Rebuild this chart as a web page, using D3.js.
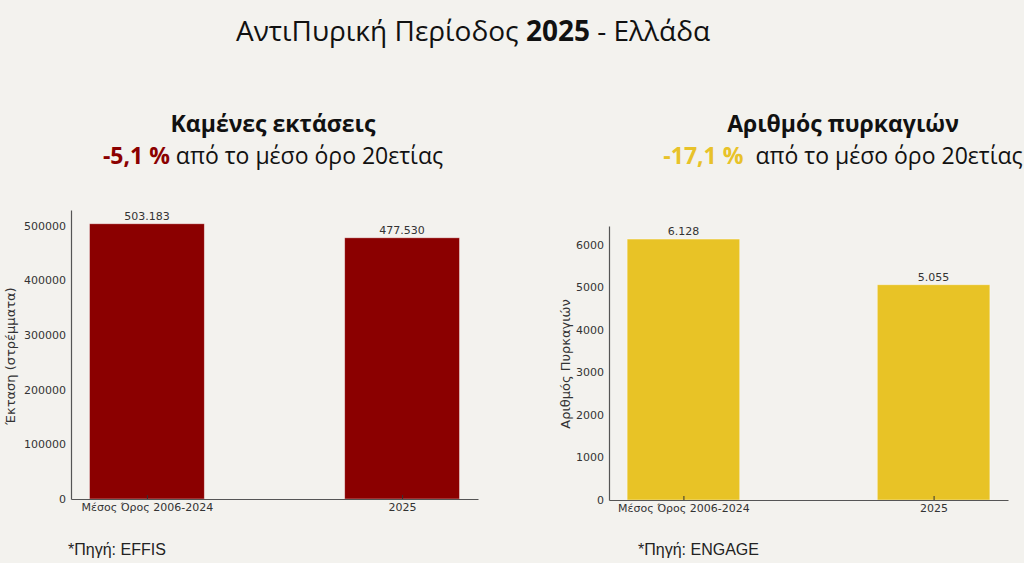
<!DOCTYPE html>
<html lang="el">
<head>
<meta charset="UTF-8">
<script src="https://cdn.jsdelivr.net/npm/d3@7"></script>
<title>Αντιπυρική περίοδος 2025</title>
<style>
    body { margin: 0; background: #f3f2ee; }
    svg { display: block; }
    .tick text { font-family: "DejaVu Sans", sans-serif; fill: #333; }
    .domain { stroke: #555; stroke-width: 1.2px; }
</style>
</head>
<body>
<script>
    // ---------- data ----------
    const categories = ["Μέσος Όρος 2006-2024", "2025"];
    const areaValues = [503183, 477530];
    const areaLabels = ["503.183", "477.530"];
    const fireValues = [6128, 5055];
    const fireLabels = ["6.128", "5.055"];
    const areaTicks = [0, 100000, 200000, 300000, 400000, 500000];
    const fireTicks = [0, 1000, 2000, 3000, 4000, 5000, 6000];

    const W = 1024, H = 563;
    const svg = d3.select("body").append("svg")
        .attr("width", W).attr("height", H);

    // ---------- titles ----------
    const title = svg.append("text")
        .attr("x", 473).attr("y", 41)
        .attr("text-anchor", "middle")
        .style("font-family", "'Open Sans', sans-serif")
        .style("font-size", "28px")
        .style("fill", "#111");
    title.append("tspan").text("ΑντιΠυρική Περίοδος ");
    title.append("tspan").style("font-weight", "bold").text("2025");
    title.append("tspan").text(" - Ελλάδα");

    function subtitle(cx, name, pct, color) {
        svg.append("text")
            .attr("x", cx).attr("y", 132)
            .attr("text-anchor", "middle")
            .style("font-family", "'Open Sans', sans-serif")
            .style("font-weight", "bold")
            .style("font-size", "23px")
            .style("fill", "#111")
            .text(name);
        const t = svg.append("text")
            .attr("x", cx).attr("y", 164)
            .attr("text-anchor", "middle")
            .style("font-family", "'Open Sans', sans-serif")
            .style("font-size", "23px")
            .style("fill", "#111");
        t.append("tspan").style("font-weight", "bold").style("fill", color).text(pct);
        t.append("tspan").attr("xml:space", "preserve").text(" από το μέσο όρο 20ετίας");
    }
    subtitle(273, "Καμένες εκτάσεις", "-5,1 %", "#8b0000");
    subtitle(843, "Αριθμός πυρκαγιών", "-17,1 %\u00a0", "#e8c229");

    // ---------- bar chart ----------
    function barChart(opt) {
        const g = svg.append("g");
        // matplotlib style: bar width 0.45, 5% margins
        const x = d3.scaleLinear()
            .domain([-0.2975, 1.2975])
            .range([opt.left, opt.right]);
        const ymax = d3.max(opt.values) * 1.05;
        const y = d3.scaleLinear()
            .domain([0, ymax])
            .range([opt.bottom, opt.top]);

        g.selectAll("rect")
            .data(opt.values)
            .enter().append("rect")
            .attr("x", (d, i) => x(i - 0.225))
            .attr("width", x(0.45) - x(0))
            .attr("y", d => y(d))
            .attr("height", d => y(0) - y(d))
            .attr("fill", opt.color)
            .attr("stroke", "rgba(255,255,255,0.5)")
            .attr("stroke-width", 0.8);

        g.selectAll("text.val")
            .data(opt.values)
            .enter().append("text")
            .attr("class", "val")
            .attr("x", (d, i) => x(i))
            .attr("y", d => y(d) - 4)
            .attr("text-anchor", "middle")
            .style("font-family", "'DejaVu Sans', sans-serif")
            .style("font-size", "11px")
            .style("fill", "#333")
            .text((d, i) => opt.labels[i]);

        const yAxis = g.append("g")
            .attr("transform", `translate(${opt.left},0)`)
            .call(d3.axisLeft(y).tickValues(opt.ticks).tickSize(0).tickPadding(5).tickFormat(d3.format("d")));
        yAxis.selectAll(".tick text").style("font-size", "11px");

        const xAxis = g.append("g")
            .attr("transform", `translate(0,${opt.bottom})`)
            .call(d3.axisBottom(x).tickValues([0, 1]).tickSizeInner(-4).tickSizeOuter(0).tickPadding(4)
                .tickFormat(i => categories[i]));
        xAxis.selectAll(".tick line").attr("stroke", "#333");
        xAxis.selectAll(".tick text").style("font-size", "11px");

        g.append("text")
            .attr("transform", `translate(${opt.labelX},${opt.labelY}) rotate(-90)`)
            .attr("text-anchor", "middle")
            .style("font-family", "'DejaVu Sans', sans-serif")
            .style("font-size", "13px")
            .style("fill", "#333")
            .text(opt.ylabel);

        g.append("text")
            .attr("x", opt.srcX).attr("y", 555)
            .style("font-family", "'Liberation Sans', Arial, sans-serif")
            .style("font-size", "16px")
            .style("fill", "#222")
            .text(opt.source);
    }

    barChart({
        left: 71, right: 478, top: 210, bottom: 499,
        values: areaValues, labels: areaLabels, ticks: areaTicks,
        color: "#8b0000", ylabel: "Έκταση (στρέμματα)", labelX: 15, labelY: 356,
        source: "*Πηγή: EFFIS", srcX: 68
    });
    barChart({
        left: 609, right: 1008, top: 226, bottom: 500,
        values: fireValues, labels: fireLabels, ticks: fireTicks,
        color: "#e8c326", ylabel: "Αριθμός Πυρκαγιών", labelX: 570, labelY: 364,
        source: "*Πηγή: ENGAGE", srcX: 638
    });
</script>
</body>
</html>
